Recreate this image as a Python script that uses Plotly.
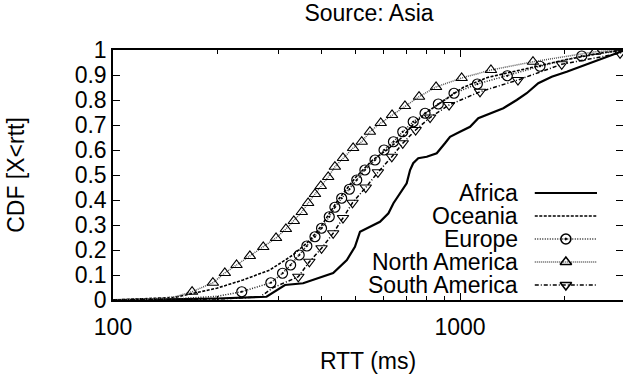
import plotly.graph_objects as go

# ---------------- data ----------------
africa_x = [100, 150, 200, 277, 313, 353, 431, 472, 498, 515, 538, 588, 622, 643, 702, 718, 733, 758,
            802, 857, 905, 936, 1000, 1069, 1129, 1221, 1333, 1457, 1557, 1681, 1838, 2030, 2217,
            2477, 2740, 3000]
africa_y = [0.0, 0.002, 0.006, 0.013, 0.06, 0.067, 0.108, 0.16, 0.213, 0.273, 0.287, 0.313, 0.347,
            0.387, 0.467, 0.52, 0.547, 0.567, 0.573, 0.587, 0.627, 0.653, 0.673, 0.693, 0.727, 0.747,
            0.767, 0.8, 0.827, 0.867, 0.893, 0.913, 0.933, 0.96, 0.98, 1.0]

oceania_x = [100, 150, 199, 237, 283, 330, 370, 400, 445, 500, 560, 615, 680, 730, 800, 900, 1020,
             1200, 1500, 2000, 2600, 3000]
oceania_y = [0.0, 0.01, 0.047, 0.08, 0.12, 0.18, 0.24, 0.3, 0.4, 0.49, 0.56, 0.6, 0.65, 0.7, 0.75,
             0.8, 0.85, 0.89, 0.92, 0.96, 0.99, 1.0]

europe_lead_x = [100, 150, 200]
europe_lead_y = [0.0, 0.004, 0.015]
europe_x = [235, 285, 308, 325, 344, 362, 382, 399, 420, 436, 456, 480, 504, 532, 569, 604, 643,
            684, 733, 793, 866, 961, 1122, 1369, 1700, 2243]
europe_y = [0.033, 0.069, 0.107, 0.14, 0.18, 0.216, 0.253, 0.287, 0.333, 0.371, 0.407, 0.443, 0.48,
            0.52, 0.56, 0.6, 0.633, 0.673, 0.713, 0.747, 0.784, 0.827, 0.864, 0.897, 0.935, 0.976]
europe_tail_x = [3000]
europe_tail_y = [1.0]

namerica_lead_x = [100, 130, 150]
namerica_lead_y = [0.0, 0.004, 0.012]
namerica_x = [169, 194, 210, 227, 248, 271, 295, 315, 332, 350, 365, 382, 397, 417, 436, 460, 492,
              521, 550, 591, 637, 694, 762, 853, 1011, 1228, 1623, 2449]
namerica_y = [0.033, 0.069, 0.108, 0.14, 0.176, 0.212, 0.248, 0.284, 0.316, 0.352, 0.388, 0.424,
              0.456, 0.492, 0.533, 0.568, 0.608, 0.633, 0.673, 0.708, 0.74, 0.776, 0.813, 0.852,
              0.888, 0.92, 0.953, 0.993]
namerica_tail_x = [2900]
namerica_tail_y = [1.0]

samerica_lead_x = [100, 200, 265, 290]
samerica_lead_y = [0.0, 0.004, 0.012, 0.05]
samerica_x = [342, 368, 399, 431, 460, 490, 535, 580, 636, 684, 745, 820, 930, 1142, 1469, 1964, 2892]
samerica_y = [0.093, 0.153, 0.207, 0.267, 0.328, 0.389, 0.45, 0.511, 0.573, 0.627, 0.68, 0.73,
              0.78, 0.833, 0.88, 0.943, 0.987]
samerica_tail_x = [3000]
samerica_tail_y = [1.0]

legend_names = ["Africa", "Oceania", "Europe", "North America", "South America"]
x_major = [100, 1000]
x_minor = [200, 300, 400, 500, 600, 700, 800, 900, 2000, 3000]
y_ticks = [0, 0.1, 0.2, 0.3, 0.4, 0.5, 0.6, 0.7, 0.8, 0.9, 1.0]
y_ticktext = ["0", "0.1", "0.2", "0.3", "0.4", "0.5", "0.6", "0.7", "0.8", "0.9", "1"]

# ---------------- styles ----------------
FONT = "Liberation Sans, Arial, Helvetica, sans-serif"
FS = 23
styles = {
    "Africa": dict(color="black", width=2.2, dash="solid", symbol=None),
    "Oceania": dict(color="black", width=1.6, dash="3px,1.5px", symbol=None),
    "Europe": dict(color="#222222", width=1.5, dash="1px,1.5px", symbol="circle-open-dot"),
    "North America": dict(color="#555555", width=1.5, dash="1px,1px", symbol="triangle-up-open"),
    "South America": dict(color="black", width=1.5, dash="4px,2px,1px,2px", symbol="triangle-down-open"),
}

fig = go.Figure()


def add_series(name, lx, ly, mx, my, tx, ty):
    st = styles[name]
    fig.add_trace(go.Scatter(x=lx + mx + tx, y=ly + my + ty, mode="lines",
                             line=dict(color=st["color"], width=st["width"], dash=st["dash"]),
                             showlegend=False, hoverinfo="skip"))
    if st["symbol"] and mx:
        fig.add_trace(go.Scatter(x=mx, y=my, mode="markers",
                                 marker=dict(symbol=st["symbol"], size=10, color="black",
                                             line=dict(color="black", width=1.2)),
                                 showlegend=False, hoverinfo="skip"))


add_series("Africa", africa_x, africa_y, [], [], [], [])
add_series("Oceania", oceania_x, oceania_y, [], [], [], [])
add_series("Europe", europe_lead_x, europe_lead_y, europe_x, europe_y, europe_tail_x, europe_tail_y)
add_series("North America", namerica_lead_x, namerica_lead_y, namerica_x, namerica_y,
           namerica_tail_x, namerica_tail_y)
add_series("South America", samerica_lead_x, samerica_lead_y, samerica_x, samerica_y,
           samerica_tail_x, samerica_tail_y)

# ---------------- custom gnuplot-like key (text left of sample) ----------------
key_text_x = 0.798
key_line_x0, key_line_x1, key_mark_x = 0.827, 0.949, 0.888
key_rows = [0.428, 0.336, 0.244, 0.152, 0.06]
for name, ky in zip(legend_names, key_rows):
    st = styles[name]
    fig.add_trace(go.Scatter(x=[key_line_x0, key_line_x1], y=[ky, ky], xaxis="x2", yaxis="y2",
                             mode="lines",
                             line=dict(color=st["color"], width=st["width"], dash=st["dash"]),
                             showlegend=False, hoverinfo="skip"))
    if st["symbol"]:
        fig.add_trace(go.Scatter(x=[key_mark_x], y=[ky], xaxis="x2", yaxis="y2", mode="markers",
                                 marker=dict(symbol=st["symbol"], size=10, color="black",
                                             line=dict(color="black", width=1.6)),
                                 showlegend=False, hoverinfo="skip"))
    fig.add_annotation(x=key_text_x, y=ky, xref="x2", yref="y2", text=name, showarrow=False,
                       xanchor="right", yanchor="middle", font=dict(family=FONT, size=FS, color="black"))

fig.update_layout(
    width=623, height=378,
    margin=dict(l=113, r=0, t=50, b=78),
    paper_bgcolor="white", plot_bgcolor="white",
    font=dict(family=FONT, size=FS, color="black"),
    title=dict(text="Source: Asia", x=369 / 623, xref="container", xanchor="center",
               y=1 - 13 / 378, yref="container", yanchor="middle",
               font=dict(family=FONT, size=FS, color="black")),
    xaxis=dict(type="log", range=[2, 2 + 510 / 347], tickvals=x_major, ticktext=["100", "1000"],
               ticks="inside", ticklen=7, tickwidth=1, tickcolor="black",
               showline=True, linecolor="black", linewidth=1.5, mirror="allticks",
               minor=dict(tickvals=x_minor, ticks="inside", ticklen=4, tickwidth=1, tickcolor="black"),
               showgrid=False, zeroline=False, ticklabelstandoff=6,
               title=dict(text="RTT (ms)", standoff=14, font=dict(family=FONT, size=FS)),
               tickfont=dict(family=FONT, size=FS)),
    yaxis=dict(range=[0, 1], tickvals=y_ticks, ticktext=y_ticktext,
               ticks="inside", ticklen=7, tickwidth=1, tickcolor="black",
               showline=True, linecolor="black", linewidth=1.5,
               showgrid=False, zeroline=False,
               title=dict(text="CDF [X&lt;rtt]", standoff=44, font=dict(family=FONT, size=FS)),
               tickfont=dict(family=FONT, size=FS)),
    xaxis2=dict(overlaying="x", range=[0, 1], visible=False, fixedrange=True),
    yaxis2=dict(overlaying="y", side="right", range=[0, 1], tickvals=y_ticks,
                ticks="inside", ticklen=7, tickwidth=1, tickcolor="black",
                showticklabels=False, showline=False, showgrid=False, zeroline=False),
)

fig.write_html("out.html")
